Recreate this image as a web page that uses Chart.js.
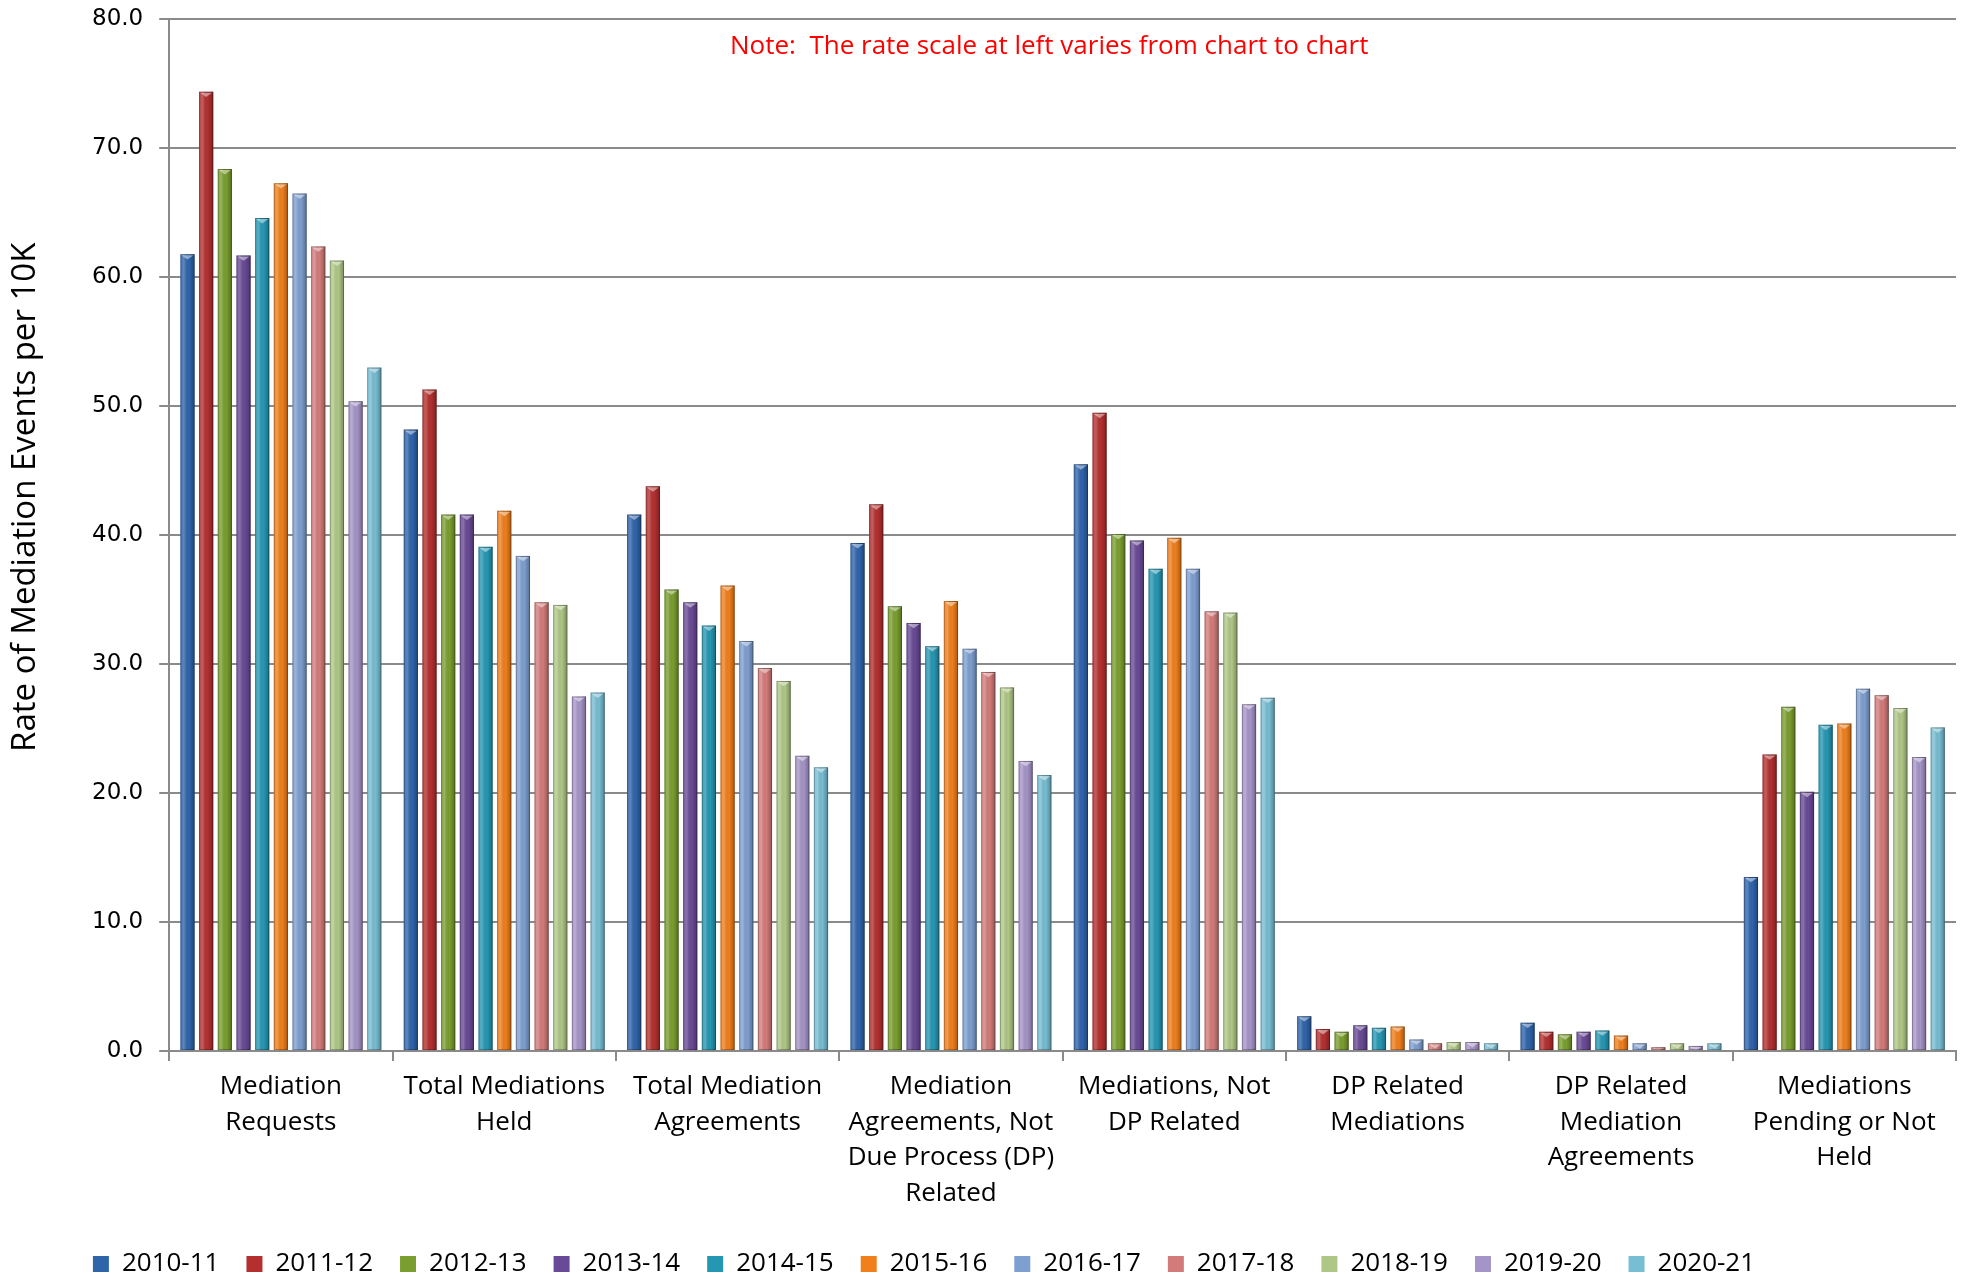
<!DOCTYPE html>
<html>
<head>
<meta charset="utf-8">
<script src="https://cdn.jsdelivr.net/npm/chart.js@4"></script>
<style>
  html, body { margin: 0; padding: 0; background: #fff; }
  #wrap { width: 1979px; height: 1279px; }
</style>
</head>
<body>
<div id="wrap"><canvas id="mediationChart" width="1979" height="1279"></canvas></div>
<script>
// categories along the x axis (multi-line labels)
const categories = [
    ['Mediation', 'Requests'],
    ['Total Mediations', 'Held'],
    ['Total Mediation', 'Agreements'],
    ['Mediation', 'Agreements, Not', 'Due Process (DP)', 'Related'],
    ['Mediations, Not', 'DP Related'],
    ['DP Related', 'Mediations'],
    ['DP Related', 'Mediation', 'Agreements'],
    ['Mediations', 'Pending or Not', 'Held']
];

const years = ['2010-11', '2011-12', '2012-13', '2013-14', '2014-15', '2015-16',
               '2016-17', '2017-18', '2018-19', '2019-20', '2020-21'];

// rate per 10K, one array per school year
const y2010_11 = [61.8, 48.2, 41.6, 39.4, 45.5, 2.7, 2.2, 13.5];
const y2011_12 = [74.4, 51.3, 43.8, 42.4, 49.5, 1.7, 1.5, 23.0];
const y2012_13 = [68.4, 41.6, 35.8, 34.5, 40.1, 1.5, 1.3, 26.7];
const y2013_14 = [61.7, 41.6, 34.8, 33.2, 39.6, 2.0, 1.5, 20.1];
const y2014_15 = [64.6, 39.1, 33.0, 31.4, 37.4, 1.8, 1.6, 25.3];
const y2015_16 = [67.3, 41.9, 36.1, 34.9, 39.8, 1.9, 1.2, 25.4];
const y2016_17 = [66.5, 38.4, 31.8, 31.2, 37.4, 0.9, 0.6, 28.1];
const y2017_18 = [62.4, 34.8, 29.7, 29.4, 34.1, 0.6, 0.3, 27.6];
const y2018_19 = [61.3, 34.6, 28.7, 28.2, 34.0, 0.7, 0.6, 26.6];
const y2019_20 = [50.4, 27.5, 22.9, 22.5, 26.9, 0.7, 0.4, 22.8];
const y2020_21 = [53.0, 27.8, 22.0, 21.4, 27.4, 0.6, 0.6, 25.1];

const yTicks = [0, 10, 20, 30, 40, 50, 60, 70, 80];

const seriesValues = [y2010_11, y2011_12, y2012_13, y2013_14, y2014_15, y2015_16,
                      y2016_17, y2017_18, y2018_19, y2019_20, y2020_21];

const colors = ['#2f64ab', '#b3302f', '#7a9e2f', '#694a96', '#2697b3', '#f07f1c',
                '#7e9fd0', '#d37b7a', '#afc786', '#a594c7', '#77bdd3'];

// bevel look: shade each bar left-to-right and add the small top triangle
const bevelPlugin = {
    id: 'bevel',
    afterDatasetsDraw(chart) {
        const ctx = chart.ctx;
        chart.data.datasets.forEach((ds, i) => {
            const meta = chart.getDatasetMeta(i);
            meta.data.forEach(bar => {
                const p = bar.getProps(['x', 'y', 'base', 'width'], true);
                const l = p.x - p.width / 2, r = p.x + p.width / 2;
                const top = Math.min(p.y, p.base), h = Math.abs(p.base - p.y);
                if (h < 0.5) return;
                ctx.save();
                const g = ctx.createLinearGradient(l, 0, r, 0);
                g.addColorStop(0, 'rgba(255,255,255,0.10)');
                g.addColorStop(0.25, 'rgba(255,255,255,0.22)');
                g.addColorStop(0.6, 'rgba(0,0,0,0.0)');
                g.addColorStop(1, 'rgba(0,0,0,0.30)');
                ctx.fillStyle = g;
                ctx.fillRect(l, top, p.width, h);
                // top triangle
                const th = Math.min(p.width * 0.38, h);
                ctx.beginPath();
                ctx.moveTo(l + 1, top + 1);
                ctx.lineTo(r - 1, top + 1);
                ctx.lineTo(p.x, top + th);
                ctx.closePath();
                ctx.fillStyle = 'rgba(255,255,255,0.45)';
                ctx.fill();
                ctx.strokeStyle = 'rgba(0,0,0,0.25)';
                ctx.lineWidth = 1;
                ctx.strokeRect(l + 0.5, top + 0.5, p.width - 1, h - 1);
                ctx.restore();
            });
        });
    }
};

// red note inside the plot and the y axis title (placed a little above centre)
const textPlugin = {
    id: 'texts',
    afterDraw(chart) {
        const ctx = chart.ctx;
        const a = chart.chartArea;
        ctx.save();
        ctx.font = '26px "Open Sans"';
        ctx.fillStyle = '#ff0000';
        ctx.textAlign = 'center';
        ctx.textBaseline = 'middle';
        ctx.fillText('Note:  The rate scale at left varies from chart to chart', a.left + 880, a.top + 27);

        ctx.translate(26, a.top + (a.bottom - a.top) / 2 - 38);
        ctx.rotate(-Math.PI / 2);
        ctx.font = '33px "Open Sans"';
        ctx.fillStyle = '#000';
        ctx.fillText('Rate of Mediation Events per 10K', 0, 0);
        ctx.restore();
    }
};

// nudge the legend left and down, as in the original
const legendShift = {
    id: 'legendShift',
    afterLayout(chart) {
        if (chart.legend) {
            chart.legend.left -= 92;
            chart.legend.right -= 92;
            chart.legend.top += 5;
            chart.legend.bottom += 5;
        }
    }
};

new Chart(document.getElementById('mediationChart'), {
    type: 'bar',
    data: {
        labels: categories,
        datasets: years.map((yr, i) => ({
            label: yr,
            data: seriesValues[i],
            backgroundColor: colors[i],
            borderWidth: 0,
            categoryPercentage: 0.92,
            barPercentage: 0.76
        }))
    },
    options: {
        responsive: false,
        animation: false,
        devicePixelRatio: 1,
        layout: { padding: { left: 76, right: 23, top: 0, bottom: 0 } },
        plugins: {
            legend: {
                position: 'bottom',
                maxHeight: 60,
                labels: {
                    font: { family: 'Open Sans', size: 26 },
                    color: '#000',
                    boxWidth: 16,
                    boxHeight: 16,
                    padding: 27
                }
            },
            tooltip: { enabled: false }
        },
        scales: {
            x: {
                grid: {
                    offset: true,
                    drawOnChartArea: false,
                    drawTicks: true,
                    tickLength: 10,
                    color: '#8a8a8a',
                    lineWidth: 2
                },
                border: { color: '#8a8a8a', width: 2 },
                ticks: {
                    font: { family: 'Open Sans', size: 26, lineHeight: 1.365 },
                    color: '#000',
                    padding: 8,
                    maxRotation: 0,
                    autoSkip: false
                }
            },
            y: {
                min: 0,
                max: 80,
                afterBuildTicks(axis) {
                    axis.ticks = yTicks.map(v => ({ value: v }));
                },
                grid: {
                    color: '#8a8a8a',
                    lineWidth: 2,
                    tickLength: 10
                },
                border: { color: '#8a8a8a', width: 2 },
                ticks: {
                    font: { family: 'DejaVu Sans', size: 23, lineHeight: 0.3 },
                    color: '#000',
                    padding: 16,
                    callback: v => Number(v).toFixed(1)
                }
            }
        }
    },
    plugins: [bevelPlugin, textPlugin, legendShift]
});
</script>
</body>
</html>
